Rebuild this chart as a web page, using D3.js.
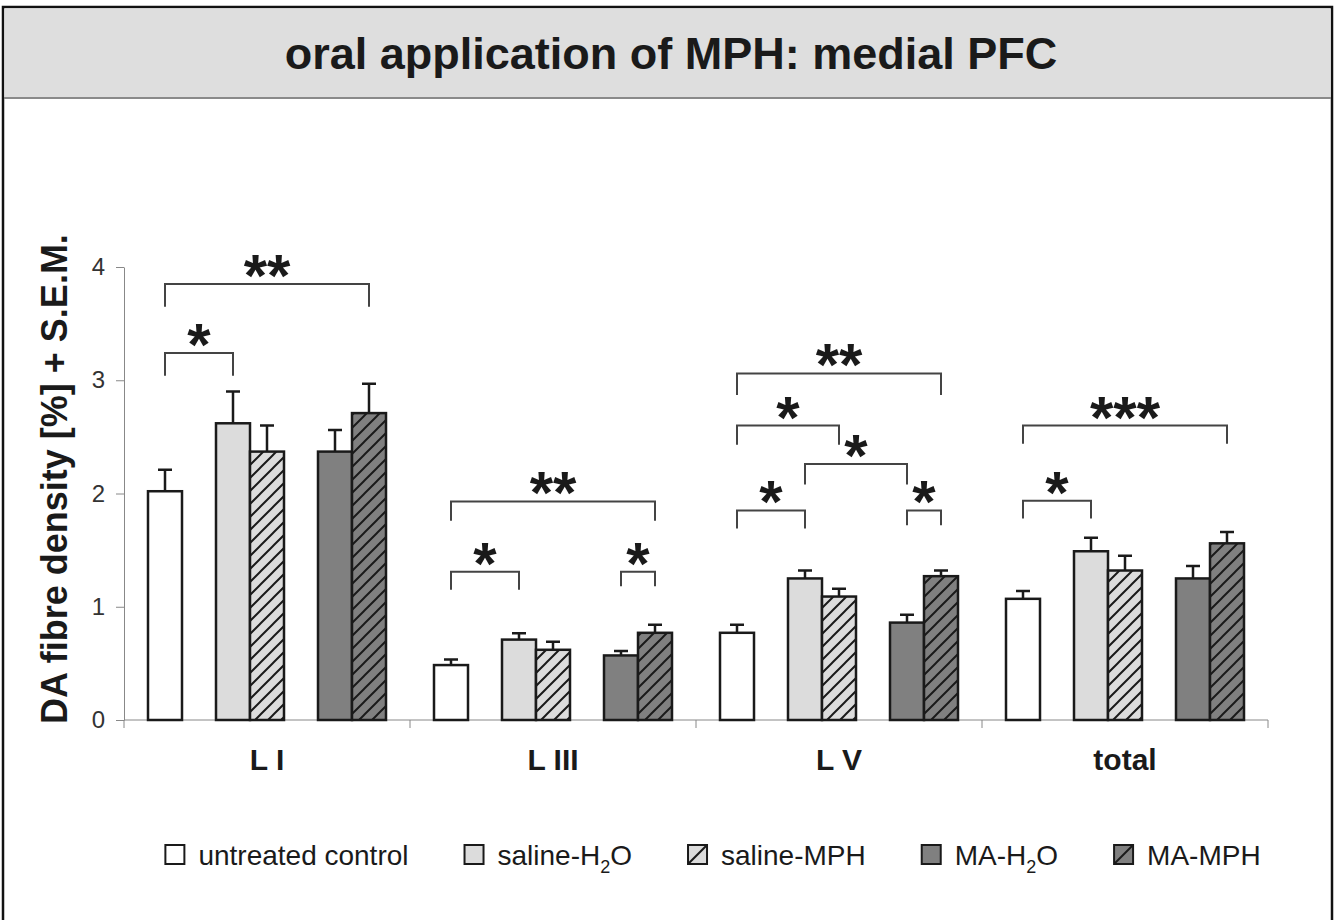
<!DOCTYPE html>
<html>
<head>
<meta charset="utf-8">
<script src="https://cdn.jsdelivr.net/npm/d3@7"></script>
<style>
  body { margin: 0; background: #fff; }
  svg { display: block; font-family: Arial, "Liberation Sans", sans-serif; }
</style>
</head>
<body>
<svg width="1336" height="920"></svg>
<script>
// Data
const categories = ['L I', 'L III', 'L V', 'total'];
const seriesNames = ['untreated control', 'saline-H2O', 'saline-MPH', 'MA-H2O', 'MA-MPH'];
const untreated = [2.02, 0.485, 0.77, 1.07];
const salineH2O = [2.62, 0.71, 1.25, 1.49];
const salineMPH = [2.37, 0.62, 1.09, 1.32];
const maH2O = [2.37, 0.57, 0.86, 1.25];
const maMPH = [2.71, 0.77, 1.27, 1.56];
const semUntreated = [0.19, 0.05, 0.07, 0.07];
const semSalineH2O = [0.28, 0.055, 0.07, 0.12];
const semSalineMPH = [0.23, 0.07, 0.07, 0.13];
const semMaH2O = [0.19, 0.04, 0.07, 0.11];
const semMaMPH = [0.26, 0.07, 0.05, 0.10];
const yTicks = [0, 1, 2, 3, 4];

// Significance brackets: category, from series, to series, top value, leg end value, label
const sigCategory = ['L I', 'L I', 'L III', 'L III', 'L III', 'L V', 'L V', 'L V', 'L V', 'L V', 'total', 'total'];
const sigFrom = [0, 0, 0, 0, 3, 0, 0, 1, 0, 3, 0, 0];
const sigTo = [4, 1, 4, 1, 4, 4, 2, 3, 1, 4, 4, 1];
const sigTop = [3.85, 3.24, 1.93, 1.31, 1.31, 3.06, 2.60, 2.26, 1.85, 1.85, 2.60, 1.935];
const sigLeg = [3.65, 3.04, 1.76, 1.15, 1.18, 2.87, 2.43, 2.08, 1.69, 1.72, 2.44, 1.78];
const sigLabel = ['**', '*', '**', '*', '*', '**', '*', '*', '*', '*', '***', '*'];

const means = [untreated, salineH2O, salineMPH, maH2O, maMPH];
const sems = [semUntreated, semSalineH2O, semSalineMPH, semMaH2O, semMaMPH];
const fills = ['#ffffff', '#dcdcdc', '#dcdcdc', '#808080', '#808080'];
const hatched = [false, false, true, false, true];
const slotOf = [0, 2, 3, 5, 6]; // position of each series inside a group (gaps at 1 and 4)

let svg = d3.select('svg');

// frame and title band
svg.append('rect').attr('x', 3).attr('y', 7).attr('width', 1329).attr('height', 940)
  .attr('fill', '#fff').attr('stroke', '#111').attr('stroke-width', 2.5);
svg.append('rect').attr('x', 4.5).attr('y', 8.5).attr('width', 1326).attr('height', 89)
  .attr('fill', '#dedede');
svg.append('line').attr('x1', 4).attr('x2', 1331).attr('y1', 98).attr('y2', 98)
  .attr('stroke', '#8a8a8a').attr('stroke-width', 2);
svg.append('text').attr('x', 671).attr('y', 69).attr('text-anchor', 'middle')
  .attr('font-size', 45).attr('font-weight', 'bold').attr('fill', '#1a1a1a')
  .text('oral application of MPH: medial PFC');

// hatch patterns
let defs = svg.append('defs');
['#dcdcdc', '#808080'].forEach((c, i) => {
  let p = defs.append('pattern').attr('id', 'hatch' + i)
    .attr('patternUnits', 'userSpaceOnUse').attr('width', 13).attr('height', 13);
  p.append('rect').attr('width', 13).attr('height', 13).attr('fill', c);
  p.append('path').attr('d', 'M-2,2 L2,-2 M0,13 L13,0 M11,15 L15,11')
    .attr('stroke', '#1a1a1a').attr('stroke-width', 2);
});

// scales
let x0 = d3.scaleBand().domain(categories).range([124, 1268]);
let x1 = d3.scaleBand().domain(d3.range(7)).range([24, x0.bandwidth() - 24]);
let y = d3.scaleLinear().domain([0, 4]).range([720, 267]);

// y axis
let yAxis = svg.append('g').attr('transform', 'translate(124,0)')
  .call(d3.axisLeft(y).tickValues(yTicks).tickFormat(d3.format('d'))
    .tickSize(8).tickSizeOuter(0).tickPadding(11));
yAxis.attr('font-size', 24).attr('font-family', null);
yAxis.select('.domain').attr('stroke', '#888');
yAxis.selectAll('.tick line').attr('stroke', '#888');
yAxis.selectAll('.tick text').attr('fill', '#333');

// x axis: baseline, boundary ticks and category labels
svg.append('line').attr('x1', 124).attr('x2', 1268).attr('y1', 720).attr('y2', 720)
  .attr('stroke', '#888');
let bounds = categories.map(c => x0(c)).concat([x0.range()[1]]);
svg.selectAll('.xtick').data(bounds).enter().append('line')
  .attr('x1', d => d).attr('x2', d => d).attr('y1', 720).attr('y2', 728)
  .attr('stroke', '#888');
svg.selectAll('.xlabel').data(categories).enter().append('text')
  .attr('x', d => x0(d) + x0.bandwidth() / 2).attr('y', 770)
  .attr('text-anchor', 'middle').attr('font-size', 30).attr('font-weight', 'bold')
  .attr('fill', '#1a1a1a').text(d => d);

// y label
svg.append('text').attr('transform', 'translate(67,479) rotate(-90)')
  .attr('text-anchor', 'middle').attr('font-size', 36).attr('font-weight', 'bold')
  .attr('fill', '#1a1a1a').text('DA fibre density [%] + S.E.M.');

// bars
let barData = [];
means.forEach((vals, s) => vals.forEach((v, c) => barData.push({ s, c, v, e: sems[s][c] })));

function barX(d) { return x0(categories[d.c]) + x1(slotOf[d.s]); }
let bw = x1.bandwidth();

svg.selectAll('.errbar').data(barData).enter().append('path')
  .attr('d', d => {
    let cx = barX(d) + bw / 2, yt = y(d.v + d.e);
    return 'M' + cx + ',' + y(d.v) + 'V' + yt + 'M' + (cx - 7) + ',' + yt + 'H' + (cx + 7);
  })
  .attr('fill', 'none').attr('stroke', '#1a1a1a').attr('stroke-width', 2.5);

svg.selectAll('.bar').data(barData).enter().append('rect')
  .attr('x', barX).attr('y', d => y(d.v))
  .attr('width', bw).attr('height', d => 720 - y(d.v))
  .attr('fill', d => hatched[d.s] ? 'url(#hatch' + (d.s === 2 ? 0 : 1) + ')' : fills[d.s])
  .attr('stroke', '#1a1a1a').attr('stroke-width', 2.5);

// significance brackets
let sigs = sigLabel.map((l, i) => ({
  x1: x0(sigCategory[i]) + x1(slotOf[sigFrom[i]]) + bw / 2,
  x2: x0(sigCategory[i]) + x1(slotOf[sigTo[i]]) + bw / 2,
  top: y(sigTop[i]), leg: y(sigLeg[i]), label: l
}));
svg.selectAll('.sig').data(sigs).enter().append('path')
  .attr('d', d => 'M' + d.x1 + ',' + d.leg + 'V' + d.top + 'H' + d.x2 + 'V' + d.leg)
  .attr('fill', 'none').attr('stroke', '#444').attr('stroke-width', 2);
svg.selectAll('.sigtext').data(sigs).enter().append('text')
  .attr('x', d => (d.x1 + d.x2) / 2).attr('y', d => d.top + 12)
  .attr('text-anchor', 'middle').attr('font-size', 60).attr('font-weight', 'bold')
  .attr('fill', '#1a1a1a').text(d => d.label);

// legend
let legend = svg.append('g');
let lx = 0;
seriesNames.forEach((name, s) => {
  let g = legend.append('g').attr('transform', 'translate(' + lx + ',0)');
  g.append('rect').attr('x', 0).attr('y', 845).attr('width', 19).attr('height', 19)
    .attr('fill', fills[s]).attr('stroke', '#1a1a1a').attr('stroke-width', 2);
  if (hatched[s])
    g.append('line').attr('x1', 1).attr('y1', 863).attr('x2', 18).attr('y2', 846)
      .attr('stroke', '#1a1a1a').attr('stroke-width', 2);
  let t = g.append('text').attr('x', 33).attr('y', 865).attr('font-size', 28).attr('fill', '#1a1a1a');
  let m = name.match(/^(.*H)2(O)$/);
  if (m) {
    t.append('tspan').text(m[1]);
    t.append('tspan').attr('font-size', 18).attr('dy', 8).text('2');
    t.append('tspan').attr('dy', -8).text(m[2]);
  } else {
    t.text(name);
  }
  lx += 33 + t.node().getComputedTextLength() + 56;
});
let lw = lx - 56;
legend.attr('transform', 'translate(' + (713 - lw / 2) + ',0)');
</script>
</body>
</html>
